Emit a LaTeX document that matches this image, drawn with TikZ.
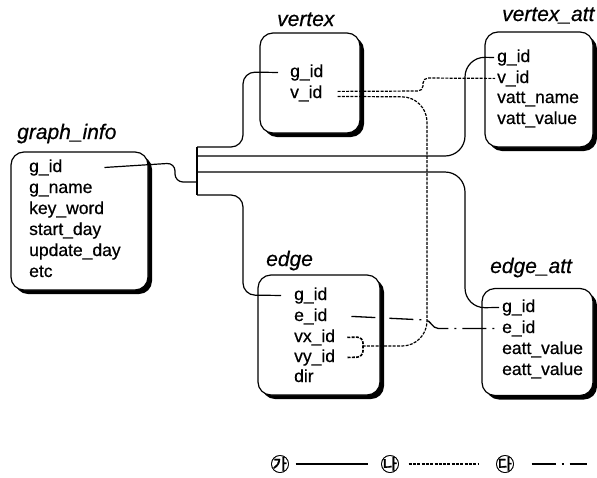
\documentclass[tikz,border=0pt]{standalone}
\usepackage{fontspec}
\setmainfont{Liberation Sans}[FakeBold=0.5]
\newfontfamily\krfont{Noto Sans CJK KR}[FakeBold=1]
\usetikzlibrary{shadows}
\tikzset{
  tblbox/.style={draw, line width=1.2pt, rounded corners=13pt, fill=white, inner sep=0pt,
    drop shadow={shadow xshift=4pt, shadow yshift=-4pt, fill=black, opacity=1}},
  tbltitle/.style={anchor=base west, inner sep=0pt, font=\fontsize{21}{23}\selectfont\itshape},
  fld/.style={anchor=base west, inner sep=0pt, font=\fontsize{17.5}{19}\selectfont},
  link/.style={line width=1.2pt},
  vlink/.style={line width=1.2pt, dash pattern=on 3pt off 1.3pt},
  elink/.style={line width=1.3pt, dash pattern=on 24pt off 6pt on 2pt off 6pt},
  lgsym/.style={inner sep=0pt, font=\fontsize{19}{19}\selectfont\krfont}
}

\begin{document}
\begin{tikzpicture}[x=1pt, y=-1pt]
  \useasboundingbox (0,0) rectangle (597,477);
  % tables
  \node[tblbox, minimum width=137pt, minimum height=138pt] (gi) at (79.5,221) {};
  \node[tbltitle] (gi-t) at (17,139) {graph\_info};
  \node[fld] (gi-gid) at (29,172) {g\_id};
  \node[fld] (gi-name) at (29,193) {g\_name};
  \node[fld] (gi-key) at (29,214) {key\_word};
  \node[fld] (gi-start) at (29,235) {start\_day};
  \node[fld] (gi-upd) at (29,256) {update\_day};
  \node[fld] (gi-etc) at (29,277) {etc};

  \node[tblbox, minimum width=100pt, minimum height=100pt] (v) at (310,83) {};
  \node[tbltitle] (v-t) at (277,26) {vertex};
  \node[fld] (v-gid) at (290,77) {g\_id};
  \node[fld] (v-vid) at (290,98) {v\_id};

  \node[tblbox, minimum width=108pt, minimum height=115pt] (va) at (539,89.5) {};
  \node[tbltitle] (va-t) at (502,21) {vertex\_att};
  \node[fld] (va-gid) at (497,62) {g\_id};
  \node[fld] (va-vid) at (497,83) {v\_id};
  \node[fld] (va-name) at (497,103) {vatt\_name};
  \node[fld] (va-value) at (497,124) {vatt\_value};

  \node[tblbox, minimum width=122pt, minimum height=120pt] (e) at (319,335) {};
  \node[tbltitle] (e-t) at (266,266) {edge};
  \node[fld] (e-gid) at (294,300) {g\_id};
  \node[fld] (e-eid) at (294,321) {e\_id};
  \node[fld] (e-vx) at (294,342) {vx\_id};
  \node[fld] (e-vy) at (294,362) {vy\_id};
  \node[fld] (e-dir) at (294,382) {dir};

  \node[tblbox, minimum width=111pt, minimum height=107pt] (ea) at (537.5,342) {};
  \node[tbltitle] (ea-t) at (490,273) {edge\_att};
  \node[fld] (ea-gid) at (502,312) {g\_id};
  \node[fld] (ea-eid) at (502,333) {e\_id};
  \node[fld] (ea-v1) at (502,354) {eatt\_value};
  \node[fld] (ea-v2) at (502,375) {eatt\_value};

  % ports
  \coordinate (gi-p) at ([xshift=42pt]gi-gid.east);
  \coordinate (v-gp) at ([xshift=-12pt]v-gid.west);
  \coordinate (v-vp1) at ([xshift=15pt,yshift=2pt]v-vid.east);
  \coordinate (v-vp2) at ([xshift=15pt,yshift=-3pt]v-vid.east);
  \coordinate (va-gp) at ([xshift=-3pt]va-gid.west);
  \coordinate (va-vp) at ([xshift=-2pt]va-vid.west);
  \coordinate (e-gp) at ([xshift=-13pt]e-gid.west);
  \coordinate (e-ep) at ([xshift=24pt]e-eid.east);
  \coordinate (e-vxp) at ([xshift=12pt]e-vx.east);
  \coordinate (e-vyp) at ([xshift=12pt]e-vy.east);
  \coordinate (e-vj) at (363,346);
  \coordinate (ea-gp) at ([xshift=-3pt]ea-gid.west);
  \coordinate (ea-ep) at ([xshift=-3pt]ea-eid.west);
  \coordinate (bus-t) at (197,147);
  \coordinate (bus-b) at (197,195);

  % solid links
  \draw[link, rounded corners=8pt] (gi-p) -- (175,163) -- (175,182) -- (bus-t |- 0,182);
  \draw[link] (bus-t) -- (bus-b);
  \draw[link, rounded corners=12pt] (bus-t) -- (243,147) -- (243,72) -- (v-gp);
  \draw[link, rounded corners=12pt] (bus-b) -- (243,195) -- (243,295) -- (e-gp);
  \draw[link, rounded corners=20pt] (197,156) -- (465,156) -- (465,57) -- (va-gp);
  \draw[link, rounded corners=20pt] (197,172) -- (465,172) -- (465,308) -- (ea-gp);

  % dotted links
  \draw[vlink, rounded corners=5pt] (v-vp1) -- (423,91) -- (423,78) -- (va-vp);
  \draw[vlink, rounded corners=25pt] (v-vp2) -- (427,97) -- (427,346) -- (e-vj);
  \draw[vlink, line width=1.6pt, rounded corners=6pt] (e-vxp) -- (363,337) -- (363,357) -- (e-vyp);

  % dash-dot link
  \draw[elink] (e-ep) -- (425,320) to[out=0,in=180] (438,0 |- ea-ep) -- (ea-ep);

  % legend
  \node[lgsym] (lg-a) at (280,464) {㉮};
  \node[lgsym] (lg-b) at (390,464) {㉯};
  \node[lgsym] (lg-c) at (505,464) {㉰};
  \coordinate (lg-end) at (587,464);
  \draw[link, shorten <=6pt, shorten >=12pt] (lg-a) -- (lg-b);
  \draw[vlink, shorten <=9pt, shorten >=16pt] (lg-b) -- (lg-c);
  \draw[elink, shorten <=17pt] (lg-c) -- (lg-end);
\end{tikzpicture}
\end{document}
